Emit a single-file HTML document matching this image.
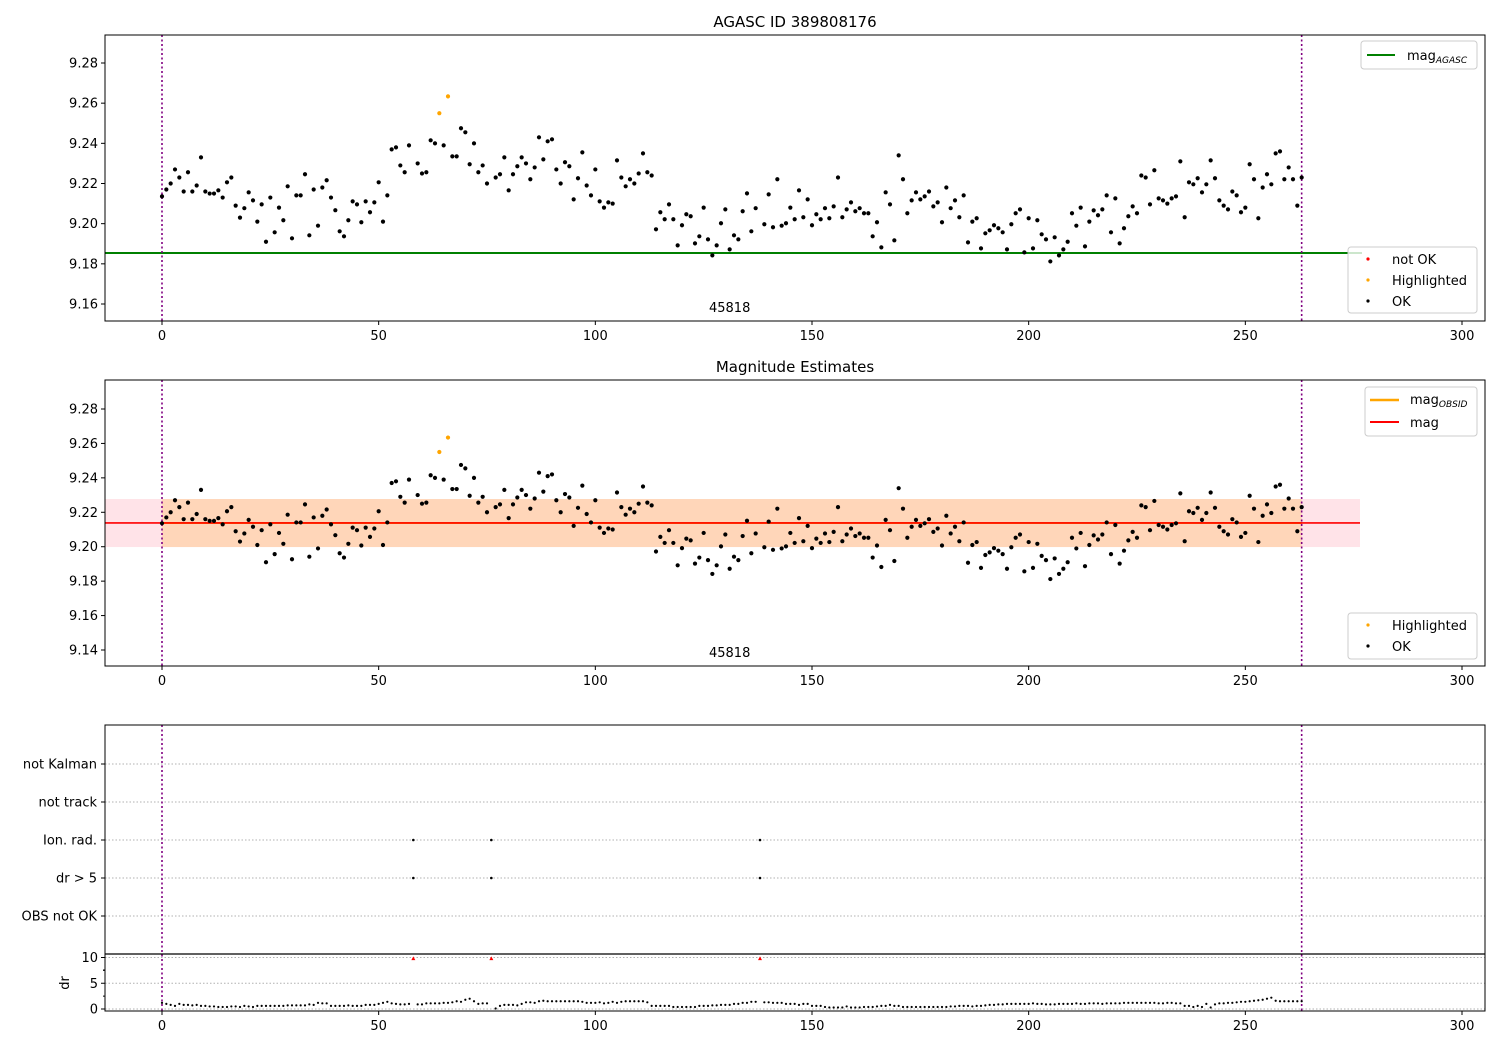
<!DOCTYPE html>
<html><head><meta charset="utf-8"><style>
body{margin:0;background:#fff;}
svg{display:block;font-family:"DejaVu Sans","Liberation Sans",sans-serif;}
</style></head><body>
<svg id="chart" width="1500" height="1050" xmlns="http://www.w3.org/2000/svg"></svg>
<script>
const mags = [9.2136,9.217,9.220,9.227,9.223,9.216,9.2256,9.216,9.219,9.233,
9.216,9.215,9.215,9.2166,9.213,9.2206,9.223,9.209,9.203,9.2077,
9.2156,9.2116,9.201,9.2096,9.191,9.213,9.1957,9.208,9.2017,9.2186,
9.1927,9.2141,9.2141,9.2246,9.1942,9.217,9.199,9.218,9.2216,9.213,
9.2067,9.1962,9.1937,9.2017,9.2111,9.2096,9.2007,9.2111,9.2057,9.2106,
9.2206,9.201,9.2141,9.237,9.238,9.229,9.2256,9.239,null,9.230,
9.225,9.2256,9.2415,9.240,9.255,9.239,9.2634,9.2335,9.2335,9.2475,
9.2455,9.2296,9.240,9.2256,9.229,9.220,null,9.223,9.2246,9.233,
9.2166,9.2246,9.2286,9.233,9.230,9.2221,9.228,9.243,9.232,9.241,
9.242,9.227,9.220,9.2306,9.2286,9.2121,9.2226,9.2355,9.219,9.2141,
9.227,9.2111,9.208,9.2106,9.210,9.2315,9.223,9.2186,9.2221,9.220,
9.225,9.235,9.2256,9.224,9.1972,9.2057,9.2022,9.2096,9.2022,9.1892,
9.1992,9.2047,9.2037,9.1902,9.1937,9.208,9.1922,9.1842,9.1892,9.2002,
9.2071,9.1872,9.1942,9.1922,9.2062,9.2151,9.1962,9.2077,null,9.1997,
9.2146,9.1982,9.2221,9.199,9.2002,9.208,9.2022,9.2166,9.2032,9.2121,
9.1992,9.2047,9.2022,9.2077,9.2027,9.2086,9.223,9.2032,9.2071,9.2106,
9.2062,9.2077,9.2052,9.2052,9.1937,9.2007,9.1882,9.2156,9.2096,9.1917,
9.234,9.2221,9.2052,9.2116,9.2156,9.2121,9.2136,9.216,9.2086,9.2106,
9.2007,9.218,9.2077,9.2116,9.2032,9.2141,9.1907,9.201,9.2027,9.1877,
9.1952,9.1967,9.1992,9.1977,9.1957,9.1872,9.1997,9.2052,9.2071,9.1857,
9.2027,9.1877,9.2017,9.1947,9.1922,9.1812,9.1932,9.1842,9.1872,9.191,
9.2052,9.199,9.208,9.1887,9.201,9.2066,9.2042,9.2071,9.2141,9.1957,
9.2126,9.1902,9.1977,9.2037,9.2086,9.2052,9.224,9.223,9.2096,9.2266,
9.2126,9.2116,9.210,9.2126,9.2136,9.231,9.2032,9.2206,9.2196,9.2226,
9.2156,9.2196,9.2315,9.2226,9.2116,9.209,9.2071,9.216,9.2141,9.2057,
9.208,9.2296,9.2221,9.2027,9.218,9.2246,9.2196,9.235,9.236,9.2221,
9.228,9.2221,9.209,9.223];
const highlighted = [64, 66];
const notOk = [58, 76, 138];
const drVals = [1.2,1.0,0.8,0.6,1.0,0.8,0.8,0.7,0.8,0.6,
0.6,0.5,0.5,0.4,0.4,0.4,0.5,0.5,0.4,0.6,
0.5,0.4,0.6,0.6,0.6,0.6,0.6,0.6,0.6,0.7,
0.7,0.7,0.7,0.7,0.9,0.8,1.2,1.1,1.1,0.6,
0.6,0.6,0.6,0.7,0.6,0.6,0.6,0.8,0.8,0.8,
1.0,1.2,1.4,1.1,1.0,0.9,0.9,1.0,9.8,
0.9,0.9,1.1,1.1,1.1,1.1,1.2,1.2,1.3,1.5,1.4,1.8,2.0,1.5,1.0,1.1,1.1,
9.8,
0.1,0.6,0.8,0.8,0.8,0.7,1.0,1.3,1.3,
1.2,1.5,1.6,1.5,1.5,1.5,1.5,1.5,1.5,1.5,1.5,1.4,1.2,1.2,
1.2,1.3,1.1,1.2,1.4,1.2,1.4,1.5,1.5,1.5,1.5,1.5,1.3,0.6,
0.6,0.6,0.6,0.6,0.4,0.4,0.4,0.4,0.4,0.4,0.6,0.6,0.6,0.7,0.7,0.8,0.8,0.8,1.0,1.0,1.2,1.2,1.4,1.4,
9.8,
1.3,1.3,1.2,1.2,1.2,1.0,1.0,1.0,0.8,1.0,1.0,0.6,0.6,0.6,0.4,0.3,0.3,0.3,0.3,0.5,0.3,0.3,
0.3,0.4,0.4,0.4,0.5,0.6,0.6,0.8,0.6,0.6,0.4,0.4,0.4,0.4,0.4,0.4,0.4,0.4,0.4,0.4,0.4,0.5,0.5,0.6,0.6,0.6,0.5,0.6,0.6,0.7,
0.8,0.8,0.9,0.9,1.0,1.0,1.0,1.0,1.0,1.0,1.1,1.0,1.0,0.9,0.9,0.9,1.0,1.0,1.0,1.0,
1.1,1.0,1.0,1.1,1.1,1.1,1.0,1.1,1.1,1.1,1.1,1.2,1.2,1.2,1.2,1.2,1.2,1.2,1.2,1.1,
1.1,1.2,1.2,1.1,1.1,
0.6,0.6,0.4,0.6,0.4,1.0,0.3,0.9,1.1,1.1,1.2,1.2,1.3,1.4,1.4,1.5,1.6,1.7,1.8,2.0,2.2,1.6,1.5,1.5,1.5,1.5,1.5,1.5];
const flagCats = ["not Kalman","not track","Ion. rad.","dr > 5","OBS not OK"];
const flagIonRad = [58, 76, 138];
const flagDr5 = [58, 76, 138];
const xTicks = [0,50,100,150,200,250,300];
const y1Ticks = [9.16,9.18,9.20,9.22,9.24,9.26,9.28];
const y2Ticks = [9.14,9.16,9.18,9.20,9.22,9.24,9.26,9.28];
const drTicks = [0,5,10];
const magAgasc = 9.1854, magMean = 9.2138, bandLo = 9.1998, bandHi = 9.2277;
const obsStart = 0, obsEnd = 263, obsLabel = "45818";

const svg = document.getElementById('chart');
const NS = 'http://www.w3.org/2000/svg';
function mk(tag, attrs, parent, text){
  const e = document.createElementNS(NS, tag);
  for (const k in attrs) e.setAttribute(k, attrs[k]);
  if (text !== undefined) e.textContent = text;
  (parent || svg).appendChild(e);
  return e;
}
const L = 105, R = 1485;
const X = v => 162 + v * (1300 / 300);
const Y1 = v => 63 + (9.28 - v) * (241 / 0.12);
const Y2 = v => 409 + (9.28 - v) * (241 / 0.14);
const YC = i => 764 + i * 38;
const YD = v => 1009 - v * 5.15;

function xAxis(bottom, name){
  const g = mk('g', {});  
  xTicks.forEach(t => {
    mk('line', {x1: X(t), x2: X(t), y1: bottom, y2: bottom + 4, stroke: '#000', 'stroke-width': 1}, g);
    const tx = mk('text', {x: X(t), y: bottom + 19, 'font-size': 13, 'text-anchor': 'middle'}, g, String(t));
     
  });
}
function yAxis(ticks, Yf, name, fmt){
  const g = mk('g', {});  
  ticks.forEach(t => {
    mk('line', {x1: L - 4, x2: L, y1: Yf(t), y2: Yf(t), stroke: '#000'}, g);
    const tx = mk('text', {x: L - 7, y: Yf(t) + 4.5, 'font-size': 13, 'text-anchor': 'end'}, g, fmt(t));
     
  });
}
function vlines(top, bottom){
  [obsStart, obsEnd].forEach(v => {
    const l = mk('line', {x1: X(v), x2: X(v), y1: top, y2: bottom, stroke: '#800080', 'stroke-width': 1.6, 'stroke-dasharray': '2,2.5'});
     
  });
}
function dots(Yf, name){
  const g = mk('g', {});  
  mags.forEach((m, i) => {
    if (m === null) return;
    const c = mk('circle', {cx: X(i), cy: Yf(m), r: 2.1, fill: highlighted.includes(i) ? '#ffa500' : '#000'}, g);
    
    
  });
}

// ---------- Panel 1 ----------
let t = mk('text', {x: 795, y: 27, 'font-size': 15, 'text-anchor': 'middle'}, svg, 'AGASC ID 389808176');
 
let ag = mk('line', {x1: L, x2: 1362, y1: Y1(magAgasc), y2: Y1(magAgasc), stroke: '#008000', 'stroke-width': 2});
 
vlines(35, 321);
dots(Y1, 'top-points');
t = mk('text', {x: X(131), y: 312, 'font-size': 13, 'text-anchor': 'middle'}, svg, obsLabel);
 
let fr = mk('rect', {x: L, y: 35, width: R - L, height: 286, fill: 'none', stroke: '#000', 'stroke-width': 1});
 
xAxis(321, 'top-x-axis');
yAxis(y1Ticks, Y1, 'top-y-axis', v => v.toFixed(2));

let lg = mk('g', {});  
mk('rect', {x: 1361, y: 41, width: 116, height: 28, rx: 3, fill: '#fff', 'fill-opacity': 0.8, stroke: '#ccc'}, lg);
mk('line', {x1: 1367, x2: 1395, y1: 55, y2: 55, stroke: '#008000', 'stroke-width': 2}, lg);
let lt = mk('text', {x: 1407, y: 60, 'font-size': 13}, lg, 'mag');
mk('tspan', {'font-size': 9, 'font-style': 'italic', dy: 3}, lt, 'AGASC');
lg = mk('g', {});  
mk('rect', {x: 1348, y: 247, width: 129, height: 66, rx: 3, fill: '#fff', 'fill-opacity': 0.8, stroke: '#ccc'}, lg);
[['not OK', '#f00', 259], ['Highlighted', '#ffa500', 280], ['OK', '#000', 301]].forEach(([s, c, y]) => {
  mk('circle', {cx: 1368, cy: y, r: 1.6, fill: c}, lg);
  mk('text', {x: 1392, y: y + 5, 'font-size': 13}, lg, s);
});

// ---------- Panel 2 ----------
t = mk('text', {x: 795, y: 372, 'font-size': 15, 'text-anchor': 'middle'}, svg, 'Magnitude Estimates');
 
let b = mk('rect', {x: L, y: Y2(bandHi), width: 1360 - L, height: Y2(bandLo) - Y2(bandHi), fill: '#ffc0cb', 'fill-opacity': 0.45});
 
b = mk('rect', {x: X(obsStart), y: Y2(bandHi), width: X(obsEnd) - X(obsStart), height: Y2(bandLo) - Y2(bandHi), fill: '#ffa500', 'fill-opacity': 0.2});
 
let ml = mk('line', {x1: X(obsStart), x2: X(obsEnd), y1: Y2(magMean), y2: Y2(magMean), stroke: '#ffa500', 'stroke-width': 2});
 
ml = mk('line', {x1: L, x2: 1360, y1: Y2(magMean), y2: Y2(magMean), stroke: '#f00', 'stroke-width': 1.6});
 
vlines(380, 666);
dots(Y2, 'middle-points');
t = mk('text', {x: X(131), y: 657, 'font-size': 13, 'text-anchor': 'middle'}, svg, obsLabel);
 
fr = mk('rect', {x: L, y: 380, width: R - L, height: 286, fill: 'none', stroke: '#000'});
 
xAxis(666, 'middle-x-axis');
yAxis(y2Ticks, Y2, 'middle-y-axis', v => v.toFixed(2));
lg = mk('g', {});  
mk('rect', {x: 1365, y: 387, width: 112, height: 49, rx: 3, fill: '#fff', 'fill-opacity': 0.8, stroke: '#ccc'}, lg);
mk('line', {x1: 1370, x2: 1399, y1: 400, y2: 400, stroke: '#ffa500', 'stroke-width': 2.5}, lg);
lt = mk('text', {x: 1410, y: 404, 'font-size': 13}, lg, 'mag');
mk('tspan', {'font-size': 9, 'font-style': 'italic', dy: 3}, lt, 'OBSID');
mk('line', {x1: 1370, x2: 1399, y1: 422, y2: 422, stroke: '#f00', 'stroke-width': 2}, lg);
mk('text', {x: 1410, y: 427, 'font-size': 13}, lg, 'mag');
lg = mk('g', {});  
mk('rect', {x: 1348, y: 613, width: 129, height: 46, rx: 3, fill: '#fff', 'fill-opacity': 0.8, stroke: '#ccc'}, lg);
[['Highlighted', '#ffa500', 625], ['OK', '#000', 646]].forEach(([s, c, y]) => {
  mk('circle', {cx: 1368, cy: y, r: 1.6, fill: c}, lg);
  mk('text', {x: 1392, y: y + 5, 'font-size': 13}, lg, s);
});

// ---------- Panel 3 ----------
const fg = mk('g', {});  
flagCats.forEach((c, i) => {
  mk('line', {x1: L, x2: R, y1: YC(i), y2: YC(i), stroke: '#b0b0b0', 'stroke-dasharray': '1.5,2'}, fg);
  mk('line', {x1: L - 4, x2: L, y1: YC(i), y2: YC(i), stroke: '#000'}, fg);
  const tx = mk('text', {x: L - 8, y: YC(i) + 4.5, 'font-size': 13, 'text-anchor': 'end'}, fg, c);
   
});
flagIonRad.forEach(v => { const c = mk('circle', {cx: X(v), cy: YC(2), r: 1.3, fill: '#000'}, fg);   });
flagDr5.forEach(v => { const c = mk('circle', {cx: X(v), cy: YC(3), r: 1.3, fill: '#000'}, fg);   });
drTicks.forEach(v => {
  mk('line', {x1: L, x2: R, y1: YD(v), y2: YD(v), stroke: '#b0b0b0', 'stroke-dasharray': '1.5,2'});
  mk('line', {x1: L - 4, x2: L, y1: YD(v), y2: YD(v), stroke: '#000'});
  const tx = mk('text', {x: L - 7, y: YD(v) + 4.5, 'font-size': 13, 'text-anchor': 'end'}, svg, String(v));
   
});
[2.5, 7.5].forEach(v => mk('line', {x1: L - 2, x2: L, y1: YD(v), y2: YD(v), stroke: '#000'}));
mk('line', {x1: L - 2, x2: L, y1: 970, y2: 970, stroke: '#000'});
t = mk('text', {x: 0, y: 0, 'font-size': 13, 'text-anchor': 'middle', transform: 'translate(69,983) rotate(-90)'}, svg, 'dr');
 
vlines(725, 1011);
const dg = mk('g', {});  
drVals.forEach((v, i) => {
  if (notOk.includes(i)) {
    const x = X(i), y = YD(v);
    const p = mk('path', {d: `M${x},${y-2.2} L${x+2},${y+1.6} L${x-2},${y+1.6} Z`, fill: '#f00'}, dg);
     
  } else {
    const c = mk('circle', {cx: X(i), cy: YD(v), r: 1.1, fill: '#000'}, dg);
     
  }
});
fr = mk('rect', {x: L, y: 725, width: R - L, height: 286, fill: 'none', stroke: '#000'});
 
mk('line', {x1: L, x2: R, y1: 954, y2: 954, stroke: '#000', 'stroke-width': 1.2});
xAxis(1011, 'bottom-x-axis');
</script>
</body></html>
